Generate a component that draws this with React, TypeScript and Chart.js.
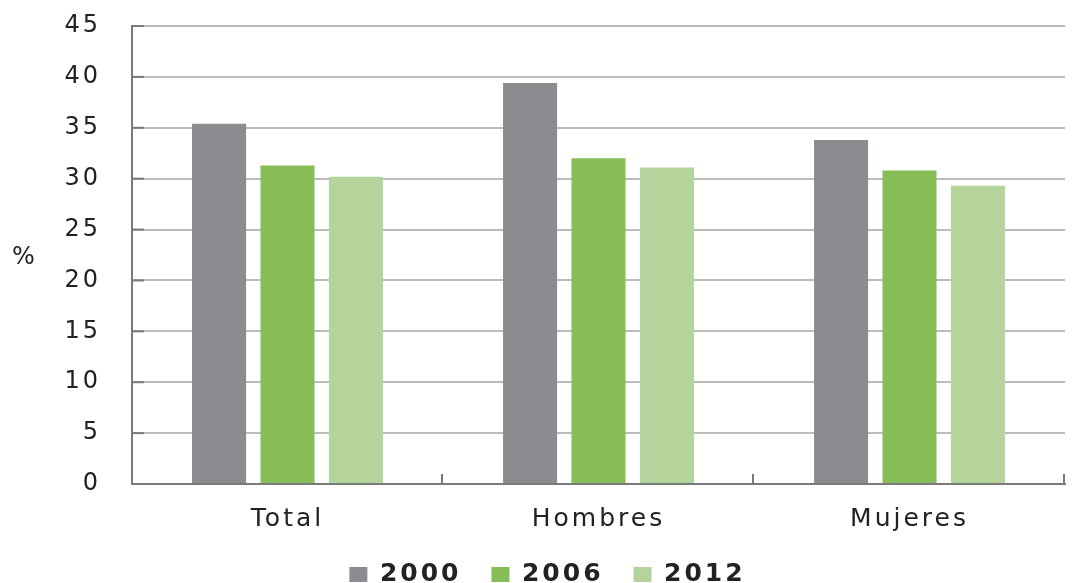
import React, { useEffect, useRef } from "react";
import { Chart, registerables } from "chart.js";

Chart.register(...registerables);

const categories = ["Total", "Hombres", "Mujeres"];
const seriesLabels = ["2000", "2006", "2012"];
const values2000 = [35.4, 39.4, 33.8];
const values2006 = [31.3, 32.0, 30.8];
const values2012 = [30.2, 31.1, 29.3];
const yTicks = [0, 5, 10, 15, 20, 25, 30, 35, 40, 45];
const colors = ["#8b8c90", "#86bd57", "#b4d49c"];

const FONT = "'DejaVu Sans', sans-serif";
const SPACING = "3px";

const decorPlugin = {
  id: "decor",
  beforeInit(chart: any) {
    chart.ctx.letterSpacing = SPACING;
  },
  beforeUpdate(chart: any) {
    chart.ctx.letterSpacing = SPACING;
  },
  beforeDraw(chart: any) {
    chart.ctx.letterSpacing = SPACING;
  },
  afterDraw(chart: any) {
    const ctx = chart.ctx;
    const area = chart.chartArea;
    const y = chart.scales.y;
    ctx.save();
    ctx.strokeStyle = "#7a7a7a";
    ctx.lineWidth = 2;
    // inward y tick marks
    y.ticks.forEach((t: any) => {
      const py = y.getPixelForValue(t.value);
      ctx.beginPath();
      ctx.moveTo(area.left, py);
      ctx.lineTo(area.left + 12, py);
      ctx.stroke();
    });
    // category boundary ticks
    const n = categories.length;
    const w = (area.right - area.left) / n;
    for (let i = 1; i <= n; i++) {
      const px = Math.round(area.left + w * i) - 1;
      ctx.beginPath();
      ctx.moveTo(px, area.bottom);
      ctx.lineTo(px, area.bottom - 10);
      ctx.stroke();
    }
    // "%" label
    ctx.fillStyle = "#222";
    ctx.font = "24px " + FONT;
    ctx.letterSpacing = "0px";
    ctx.textAlign = "left";
    ctx.textBaseline = "middle";
    ctx.fillText("%", 12, 258);
    ctx.restore();
  },
};

export default function App() {
  const ref = useRef<HTMLCanvasElement | null>(null);
  useEffect(() => {
    document.body.style.margin = "0";
    const canvas = ref.current!;
    const chart = new Chart(canvas, {
      type: "bar",
      data: {
        labels: categories,
        datasets: [
          { label: seriesLabels[0], data: values2000, backgroundColor: colors[0] },
          { label: seriesLabels[1], data: values2006, backgroundColor: colors[1] },
          { label: seriesLabels[2], data: values2012, backgroundColor: colors[2] },
        ],
      },
      options: {
        responsive: false,
        animation: false,
        layout: { padding: { top: 26, right: 16, left: 30, bottom: 0 } },
        datasets: {
          bar: { categoryPercentage: 0.66, barPercentage: 0.79 },
        },
        scales: {
          x: {
            grid: { display: false, drawTicks: false },
            border: { display: true, color: "#7a7a7a", width: 2 },
            ticks: {
              color: "#222",
              font: { family: FONT, size: 25 },
              padding: 20,
            },
            afterFit(scale: any) {
              scale.height = 48;
            },
          },
          y: {
            min: 0,
            max: 45,
            afterBuildTicks(scale: any) {
              scale.ticks = yTicks.map((v) => ({ value: v }));
            },
            grid: { color: "#bcbcbc", lineWidth: 2, drawTicks: false },
            border: { display: true, color: "#7a7a7a", width: 2 },
            ticks: {
              color: "#222",
              font: { family: FONT, size: 24 },
              padding: 31,
            },
            afterFit(scale: any) {
              scale.width = 102;
              scale.paddingTop = 0;
              scale.paddingBottom = 0;
            },
          },
        },
        plugins: {
          legend: {
            position: "bottom",
            maxHeight: 51,
            labels: {
              boxWidth: 18,
              boxHeight: 15,
              padding: 30,
              color: "#222",
              font: { family: FONT, size: 25, weight: "bold" },
            },
          },
          tooltip: { enabled: false },
        },
      },
      plugins: [decorPlugin],
    } as any);
    return () => chart.destroy();
  }, []);
  return <canvas ref={ref} width={1081} height={583} style={{ display: "block" }} />;
}
